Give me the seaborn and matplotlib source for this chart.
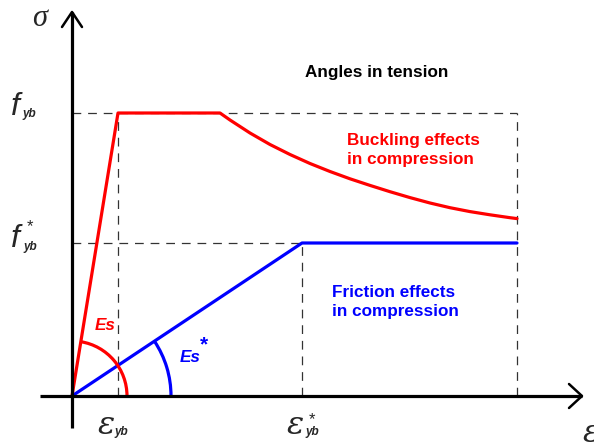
import numpy as np
import matplotlib
matplotlib.use("Agg")
import matplotlib.pyplot as plt
from matplotlib.patches import Arc
import seaborn as sns

sns.set_theme(style="white")
plt.rcParams["font.family"] = ["Liberation Sans", "DejaVu Sans"]

# Idealised stress-strain laws (units: drawing units, origin at axes crossing)
eps_yb = 46.0        # yield strain, angles in tension
f_yb = 283.0         # yield stress
eps_yb_star = 230.0  # reduced yield strain (friction)
f_yb_star = 153.0    # reduced yield stress (friction)
eps_end = 445.0      # end of the plotted range
eps_plateau_end = 148.0

# Post-peak softening branch of the buckling curve
buckling_eps = [158, 178, 198, 218, 238, 258, 278, 298, 318, 338, 358, 378, 398, 418, 438, 445]
buckling_sig = [276, 263, 251.5, 241.5, 232.5, 224.5, 217.2, 210.6, 204.3, 198.4, 193.0, 188.3, 184.4, 181.2, 178.3, 177.4]

red_x = [0.0, eps_yb, eps_plateau_end] + buckling_eps
red_y = [0.0, f_yb, f_yb] + buckling_sig
blue_x = [0.0, eps_yb_star, eps_end]
blue_y = [0.0, f_yb_star, f_yb_star]

RED = "#ff0000"
BLUE = "#0000ff"
LW = 2.3

fig = plt.figure(figsize=(5.94, 4.42), dpi=100)
ax = fig.add_axes([0, 0, 1, 1])
ax.set_xlim(-72, 522)
ax.set_ylim(-46, 396)
ax.set_aspect("equal")
ax.axis("off")

# Reference (dashed) lines
dash = dict(color="#333333", lw=0.9, dashes=(7, 5.5), zorder=1)
ax.plot([0, eps_end], [f_yb, f_yb], **dash)
ax.plot([0, eps_yb_star], [f_yb_star, f_yb_star], **dash)
ax.plot([eps_yb, eps_yb], [0, f_yb], **dash)
ax.plot([eps_yb_star, eps_yb_star], [0, f_yb_star], **dash)
ax.plot([eps_end, eps_end], [0, f_yb], **dash)

# Coordinate axes with open arrow heads
axis_kw = dict(color="black", lw=2.3, solid_capstyle="butt", zorder=4)
ax.plot([-32, 510], [0, 0], **axis_kw)
ax.plot([0, 0], [-32, 384], **axis_kw)
ax.plot([497, 510, 497], [12, 0, -12], color="black", lw=1.8, zorder=4)
ax.plot([-10, 0, 10], [369, 384, 369], color="black", lw=1.8, zorder=4)

# Material curves
sns.lineplot(x=red_x, y=red_y, sort=False, color=RED, lw=LW, ax=ax, zorder=3)
sns.lineplot(x=blue_x, y=blue_y, sort=False, color=BLUE, lw=LW, ax=ax, zorder=3)

# Angle arcs for the elastic moduli
ang_es = np.degrees(np.arctan2(f_yb, eps_yb))
ang_es_star = np.degrees(np.arctan2(f_yb_star, eps_yb_star))
ax.add_patch(Arc((0, 0), 110, 110, theta1=0, theta2=ang_es, color=RED, lw=LW, zorder=3))
ax.add_patch(Arc((0, 0), 198, 198, theta1=0, theta2=ang_es_star, color=BLUE, lw=LW, zorder=3))

# Annotations
bold = dict(fontsize=12.3, fontweight="bold", va="center", ha="left")
ax.text(233, 323, "Angles in tension", color="black", **bold)
ax.text(275, 246, "Buckling effects\nin compression", color=RED, linespacing=1.3, **bold)
ax.text(260, 94, "Friction effects\nin compression", color=BLUE, linespacing=1.3, **bold)
ax.text(23, 70, "Es", color=RED, fontstyle="italic", **bold)
ax.text(108, 38, "Es", color=BLUE, fontstyle="italic", **bold)
ax.text(128, 51, "*", color=BLUE, fontsize=15, fontweight="bold", va="center", ha="left")

# Axis symbols
ax.text(-32, 378, "σ", fontsize=22, fontstyle="italic", family="Liberation Serif", ha="center", va="center")

fkw = dict(fontsize=23, fontstyle="italic", ha="left", va="center")
sub = dict(fontsize=8.5, fontstyle="italic", fontweight="bold", ha="left", va="center")
ax.text(-61, 289, "f", **fkw)
ax.text(-50, 282, "yb", **sub)
ax.text(-61, 157, "f", **fkw)
ax.text(-49, 149, "yb", **sub)
ax.text(-45, 169, "*", fontsize=12, ha="left", va="center")

ekw = dict(fontsize=23, fontstyle="italic", family="DejaVu Serif", ha="left", va="center")
ax.text(26, -29, "ε", **ekw)
ax.text(42, -36, "yb", **sub)
ax.text(215, -29, "ε", **ekw)
ax.text(233, -36, "yb", **sub)
ax.text(237, -24, "*", fontsize=12, ha="left", va="center")
ax.text(511, -38, "ε", **ekw)

fig.savefig("out.png", dpi=100)
